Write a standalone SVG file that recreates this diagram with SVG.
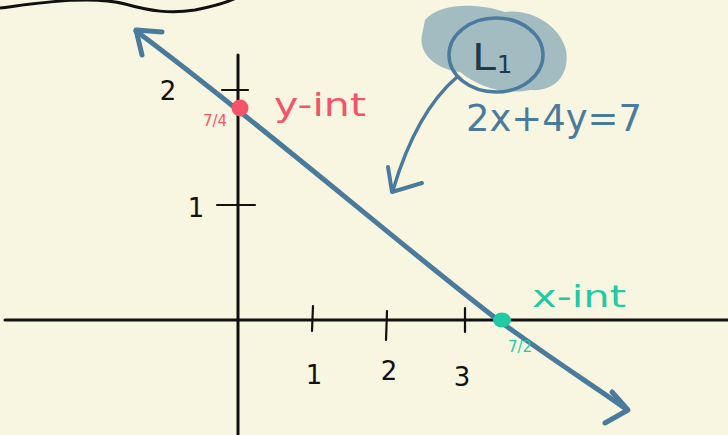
<svg xmlns="http://www.w3.org/2000/svg" width="728" height="435" viewBox="0 0 728 435">
<style>
.ax{stroke:#111;stroke-width:3;fill:none;stroke-linecap:round}
.tk{stroke:#111;stroke-width:2.2;fill:none;stroke-linecap:round}
.num{font-family:"DejaVu Sans","Liberation Sans",sans-serif;font-size:26px;fill:#111}
.blue{stroke:#4a7b9c;fill:none;stroke-linecap:round;stroke-linejoin:round}
.red{fill:#f4546a}
.green{fill:#1fcaa4}
.lbl{font-family:"DejaVu Sans","Liberation Sans",sans-serif}
</style>
<rect width="728" height="435" fill="#f8f6e1"/>
<path d="M0,8 C40,3 90,-5 125,4 C150,11 170,14 195,10 C215,6 228,2 236,-2" stroke="#111" stroke-width="3" fill="none"/>
<g id="axes">
<line class="ax" x1="5" y1="320" x2="728" y2="320"/>
<line class="ax" x1="238" y1="55" x2="238" y2="435"/>
</g>
<g id="ticks">
<line class="tk" x1="222" y1="90" x2="248" y2="90"/>
<line class="tk" x1="217" y1="205" x2="255" y2="205"/>
<line class="tk" x1="313" y1="306" x2="312" y2="331"/>
<line class="tk" x1="387" y1="311" x2="386" y2="340"/>
<line class="tk" x1="465" y1="308" x2="465" y2="332"/>
<text class="num" x="168" y="100" text-anchor="middle">2</text>
<text class="num" x="196" y="217" text-anchor="middle">1</text>
<text class="num" x="314" y="384" text-anchor="middle">1</text>
<text class="num" x="389" y="380" text-anchor="middle">2</text>
<text class="num" x="462" y="386" text-anchor="middle">3</text>
</g>
<g id="connectors">
<path class="blue" stroke-width="5" d="M136,31 C250,115 400,245 498,320 C560,365 600,390 626,409"/>
<polyline class="blue" stroke-width="5" points="162,32 136,30 142,55"/>
<polyline class="blue" stroke-width="5" points="612,392 628,410 605,423"/>
<path class="blue" stroke-width="3.5" d="M457,77 C430,100 408,140 393,190"/>
<polyline class="blue" stroke-width="4" points="388,167 392,192 422,183"/>
</g>
<g id="yint">
<circle class="red" cx="240" cy="108" r="8.5"/>
<text class="lbl" x="215" y="126" font-size="15" fill="#f4546a" text-anchor="middle">7/4</text>
<text class="lbl" x="274" y="116" font-size="32" fill="#f4546a" textLength="92" lengthAdjust="spacingAndGlyphs">y-int</text>
</g>
<g id="xint">
<ellipse class="green" cx="502" cy="320" rx="9" ry="7.5"/>
<text class="lbl" x="520" y="352" font-size="15" fill="#1fcaa4" text-anchor="middle">7/2</text>
<text class="lbl" x="532" y="307" font-size="30" fill="#1fcaa4" textLength="94" lengthAdjust="spacingAndGlyphs">x-int</text>
</g>
<g id="L1">
<path d="M425,20 C440,2 480,3 505,12 C530,8 560,25 566,50 C570,75 555,92 530,90 C505,95 480,88 460,72 C438,70 418,55 422,35 Z" fill="#a3bcc1"/>
<ellipse cx="496" cy="55" rx="47" ry="37" fill="none" stroke="#4a7b9c" stroke-width="3.5"/>
<text class="lbl" x="472" y="70" font-size="38" fill="#1e3a4d" textLength="24" lengthAdjust="spacingAndGlyphs">L</text>
<text class="lbl" x="497" y="73" font-size="24" fill="#1e3a4d">1</text>
</g>
<g id="equation">
<text class="lbl" x="466" y="131" font-size="38" fill="#4a7b9c" textLength="176" lengthAdjust="spacingAndGlyphs">2x+4y=7</text>
</g>
</svg>
